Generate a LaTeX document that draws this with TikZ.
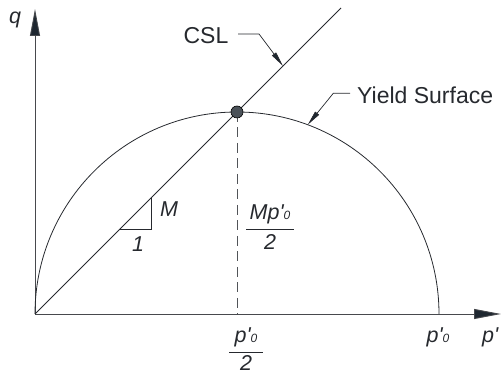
\documentclass[tikz,border=0pt]{standalone}
\usepackage{fontspec}
\setmainfont{Liberation Sans}[Ligatures=TeXOff]
\usetikzlibrary{arrows.meta}
\definecolor{ink}{HTML}{26292E}
\definecolor{head}{HTML}{1E2730}
\newcommand{\zsub}{{\fontsize{12}{12}\selectfont 0}}
\tikzset{
  lbl/.style={font=\fontsize{23}{27}\selectfont, text=ink, inner sep=0pt},
  ital/.style={font=\fontsize{21.5}{25}\selectfont\itshape, text=ink, inner sep=0pt},
  axis/.style={draw=ink!85, line width=0.9pt, -{Triangle[length=27pt,width=10pt,fill=head]}},
  leader/.style={draw=ink, line width=0.7pt, -{Triangle[length=15pt,width=5pt,fill=head]}},
  curve/.style={draw=ink, line width=0.8pt},
  dashline/.style={draw=ink!80, line width=0.9pt, dash pattern=on 10pt off 5.5pt},
  bar/.style={draw=ink, line width=0.8pt},
}
\begin{document}
\begin{tikzpicture}[x=1pt,y=1pt]
\useasboundingbox (0,0) rectangle (501,374);
% key points
\coordinate (O) at (35,60);
\coordinate (qtip) at (35,365);
\coordinate (ptip) at (501,60);
\coordinate (Top) at (237,262);
\coordinate (Foot) at (237,60);
\coordinate (CSLend) at (341,366);
\coordinate (T1) at (120,145);
\coordinate (T2) at (151,145);
\coordinate (T3) at (151,176);
\coordinate (cslS) at (238,340);
\coordinate (cslK) at (259,340);
\coordinate (cslTip) at (283,308);
\coordinate (ysS) at (350,280.7);
\coordinate (ysK) at (333.3,280.7);
\coordinate (ysTip) at (307.7,249.2);
% axes
\draw[axis] (O) -- (qtip);
\draw[axis] (O) -- (ptip);
% yield surface and CSL
\draw[curve] (O) arc[start angle=180,end angle=0,radius=202pt];
\draw[curve] (O) -- (CSLend);
\draw[dashline] (Top) -- (Foot);
\draw[curve] (T1) -- (T2) -- (T3);
\node[circle, fill=head!80, draw=black, line width=0.6pt, minimum size=12pt, inner sep=0pt] (dot) at (Top) {};
% leaders
\node[lbl] (csl) at (206,338.5) {CSL};
\draw[leader] (cslS) -- (cslK) -- (cslTip);
\node[lbl, anchor=west] (ys) at (357,279) {Yield Surface};
\draw[leader] (ysS) -- (ysK) -- (ysTip);
% labels
\node[ital] (q) at (15,354) {q};
\node[ital, anchor=base] (M) at (169,157) {M};
\node[ital, anchor=base] (one) at (138,122) {1};
\node[ital, anchor=base] (num1) at (270,154) {Mp'\zsub};
\coordinate (b1a) at (246,144.7);
\coordinate (b1b) at (294,144.7);
\draw[bar] (b1a) -- (b1b);
\node[ital, anchor=base] (den1) at (270,124) {2};
\node[ital, anchor=base] (num2) at (246,31) {p'\zsub};
\coordinate (b2a) at (229,21.3);
\coordinate (b2b) at (263,21.3);
\draw[bar] (b2a) -- (b2b);
\node[ital, anchor=base] (den2) at (246,3) {2};
\node[ital, anchor=base] (p0) at (438,31) {p'\zsub};
\node[ital, anchor=base west] (p) at (482,31) {p'};
\end{tikzpicture}
\end{document}
